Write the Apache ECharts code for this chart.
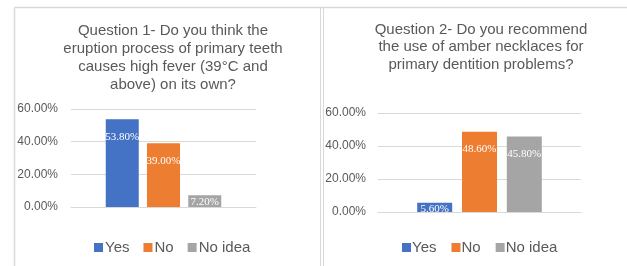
<!DOCTYPE html>
<html><head><meta charset="utf-8">
<script src="https://cdn.jsdelivr.net/npm/echarts@6/dist/echarts.min.js"></script>
<style>html,body{margin:0;padding:0;background:#fff}#c{width:627px;height:266px}</style>
</head><body><div id="c"></div>
<script>
const seriesNames = ['Yes', 'No', 'No idea'];
const q1Title = 'Question 1- Do you think the\neruption process of primary teeth\ncauses high fever (39°C and\nabove) on its own?';
const q2Title = 'Question 2- Do you recommend\nthe use of amber necklaces for\nprimary dentition problems?';
const q1Values = [53.8, 39.0, 7.2];
const q2Values = [5.6, 48.6, 45.8];
const yTicks = [0, 20, 40, 60];
const colors = ['#4472C4', '#ED7D31', '#A5A5A5'];

const chart = echarts.init(document.getElementById('c'), null, {renderer: 'canvas'});
const txt = '#595959';
const grid = '#d9d9d9';

function makeSeries(values, idx, bw, gap) {
  return values.map((v, i) => ({
    name: seriesNames[i], type: 'bar', xAxisIndex: idx, yAxisIndex: idx,
    barWidth: bw, barGap: gap, itemStyle: {color: colors[i]},
    data: [{value: v, label: {distance: v < 10 ? 1 : 12}}],
    label: {show: true, position: 'insideTop', color: '#fff', fontFamily: 'Liberation Serif', fontSize: 11,
      formatter: p => p.value.toFixed(2) + '%'}
  }));
}
function yAxis(idx, margin) {
  return {type: 'value', gridIndex: idx, min: yTicks[0], max: yTicks[yTicks.length-1], interval: yTicks[1]-yTicks[0],
    axisLabel: {color: txt, fontSize: 12, fontFamily: 'Liberation Sans', margin: margin, formatter: v => v.toFixed(2) + '%'},
    splitLine: {lineStyle: {color: grid, width: 1}}, axisLine: {show: false}, axisTick: {show: false}};
}
function xAxis(idx) {
  return {type: 'category', gridIndex: idx, data: [''], axisLabel: {show: false}, axisTick: {show: false},
    axisLine: {lineStyle: {color: grid}}};
}
const titleStyle = {color: txt, fontSize: 15, fontWeight: 'normal', fontFamily: 'Liberation Sans', lineHeight: 18, align: 'center'};
function legendOpt(left, gap, shift) {
  return {data: seriesNames, left: left, top: 240, itemWidth: 9, itemHeight: 9, icon: 'rect', itemGap: gap, padding: 0,
    textStyle: {color: txt, fontSize: 15, fontFamily: 'Liberation Sans', padding: [0, 0, 0, shift]}, selectedMode: false};
}

chart.setOption({
  animation: false,
  title: [
    {text: q1Title, left: 168, top: 17, textAlign: 'center', textStyle: titleStyle},
    {text: q2Title, left: 476, top: 16, textAlign: 'center', textStyle: Object.assign({}, titleStyle, {lineHeight: 17.5})}
  ],
  legend: [legendOpt(94, 14, -3), legendOpt(402, 15, -4)],
  grid: [
    {left: 71, right: 371, top: 109, bottom: 59},
    {left: 378, right: 46, top: 113, bottom: 54}
  ],
  xAxis: [xAxis(0), xAxis(1)],
  yAxis: [yAxis(0, 13), yAxis(1, 12)],
  series: makeSeries(q1Values, 0, 33, '25%').concat(makeSeries(q2Values, 1, 35, '28%')),
  graphic: [
    {type: 'line', shape: {x1: 14.5, y1: 7.5, x2: 627, y2: 7.5}, style: {stroke: grid, lineWidth: 1.5}},
    {type: 'line', shape: {x1: 14.5, y1: 7.5, x2: 14.5, y2: 266}, style: {stroke: grid, lineWidth: 1.5}},
    {type: 'line', shape: {x1: 320.5, y1: 7.5, x2: 320.5, y2: 266}, style: {stroke: grid, lineWidth: 1}},
    {type: 'line', shape: {x1: 323.5, y1: 7.5, x2: 323.5, y2: 266}, style: {stroke: grid, lineWidth: 1}}
  ]
});
</script></body></html>
